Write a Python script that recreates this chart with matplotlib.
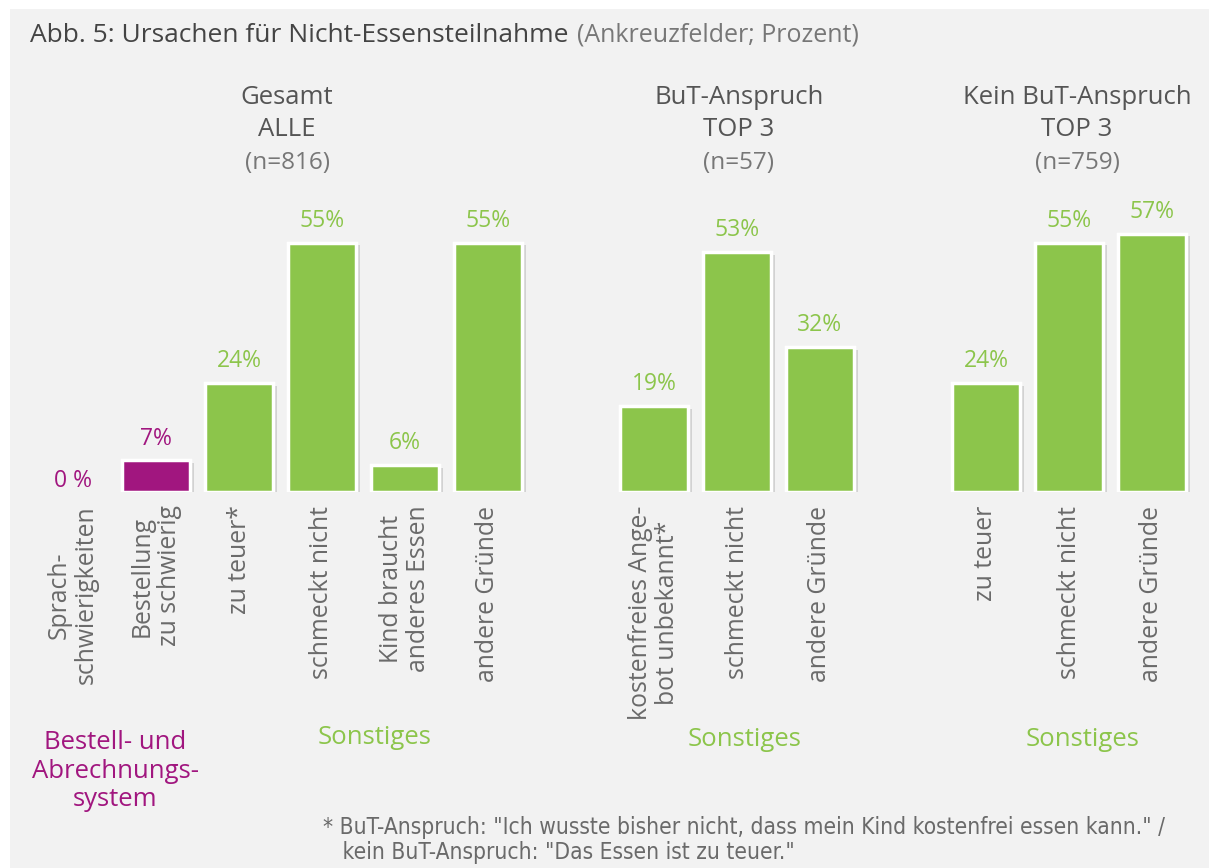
import matplotlib
matplotlib.use("Agg")
import matplotlib.pyplot as plt
import matplotlib.patheffects as pe
from matplotlib.patches import Rectangle

W, H = 1209, 868
FONT = ["Open Sans", "DejaVu Sans"]
plt.rcParams["font.family"] = FONT

GREEN = "#8cc54b"
PURPLE = "#a1167f"
DARK = "#555555"
GRAY = "#6a6a6a"
BG = "#f2f2f2"

# data
labels_gesamt = ["Sprach-\nschwierigkeiten", "Bestellung\nzu schwierig", "zu teuer*",
                 "schmeckt nicht", "Kind braucht\nanderes Essen", "andere Gründe"]
values_gesamt = [0, 7, 24, 55, 6, 55]
colors_gesamt = [PURPLE, PURPLE, GREEN, GREEN, GREEN, GREEN]
labels_but = ["kostenfreies Ange-\nbot unbekannt*", "schmeckt nicht", "andere Gründe"]
values_but = [19, 53, 32]
labels_kein = ["zu teuer", "schmeckt nicht", "andere Gründe"]
values_kein = [24, 55, 57]

slots_gesamt = [0, 1, 2, 3, 4, 5]
slots_but = [7, 8, 9]
slots_kein = [11, 12, 13]

headers = [("Gesamt", "ALLE", "(n=816)"),
           ("BuT-Anspruch", "TOP 3", "(n=57)"),
           ("Kein BuT-Anspruch", "TOP 3", "(n=759)")]
header_x = [287, 739, 1077]


def fx(x):
    return x / W


def fy(y):
    return 1 - y / H


fig = plt.figure(figsize=(W / 100, H / 100), dpi=100)
fig.patch.set_facecolor("white")
fig.patches.append(Rectangle((fx(10), 0), 1 - fx(10), fy(9), transform=fig.transFigure,
                             facecolor=BG, edgecolor="none", zorder=-5))

# axes: slot s -> pixel 156 + (s-1)*83 ; y 0..60 -> 272 px above baseline 492
left = 156 - 1.5 * 83
right = 156 + 12.5 * 83
ax = fig.add_axes([fx(left), fy(492), fx(right - left), 272 / H])
ax.set_xlim(-0.5, 13.5)
ax.set_ylim(0, 60)
ax.axis("off")

shadow = [pe.SimplePatchShadow(offset=(3, -2), shadow_rgbFace="#999999", alpha=0.35), pe.Normal()]

all_slots = slots_gesamt + slots_but + slots_kein
all_vals = values_gesamt + values_but + values_kein
all_cols = colors_gesamt + [GREEN] * 3 + [GREEN] * 3
all_labels = labels_gesamt + labels_but + labels_kein

for s, v, c, lab in zip(all_slots, all_vals, all_cols, all_labels):
    if v > 0:
        b = ax.bar(s, v, width=0.82, color=c, edgecolor="white", linewidth=2.5, zorder=2)
        b[0].set_path_effects(shadow)
        ax.annotate(f"{v}%", xy=(s, v), xytext=(0, 7), textcoords="offset points",
                    ha="center", va="bottom", fontsize=16.5, color=c)
    else:
        ax.annotate(f"{v} %", xy=(s, 0), xytext=(0, -1), textcoords="offset points",
                    ha="center", va="bottom", fontsize=16.5, color=c)
    ax.text(s, -0.05, lab, transform=ax.get_xaxis_transform(), rotation=90,
            ha="center", va="top", multialignment="center", fontsize=17.8,
            color=GRAY, linespacing=1.12)

# title
fig.text(fx(30), fy(35), "Abb. 5: Ursachen für Nicht-Essensteilnahme", fontsize=19,
         color="#444444", va="center", ha="left")
fig.text(fx(577), fy(35), "(Ankreuzfelder; Prozent)", fontsize=18,
         color="#777777", va="center", ha="left")

for (h1, h2, h3), x in zip(headers, header_x):
    fig.text(fx(x), fy(98), h1, fontsize=18.5, color=DARK, ha="center", va="center")
    fig.text(fx(x), fy(130), h2, fontsize=18.5, color=DARK, ha="center", va="center")
    fig.text(fx(x), fy(163), h3, fontsize=17.5, color="#777777", ha="center", va="center")

# group captions
fig.text(fx(115), fy(771), "Bestell- und\nAbrechnungs-\nsystem", fontsize=18.5, color=PURPLE,
         ha="center", va="center", linespacing=1.2)
fig.text(fx(375), fy(737), "Sonstiges", fontsize=18.5, color=GREEN, ha="center", va="center")
fig.text(fx(745), fy(740), "Sonstiges", fontsize=18.5, color=GREEN, ha="center", va="center")
fig.text(fx(1083), fy(740), "Sonstiges", fontsize=18.5, color=GREEN, ha="center", va="center")

# footnote
fig.text(fx(323), fy(840),
         "* BuT-Anspruch: \"Ich wusste bisher nicht, dass mein Kind kostenfrei essen kann.\" /\n"
         "   kein BuT-Anspruch: \"Das Essen ist zu teuer.\"",
         fontsize=16.3, color=GRAY, ha="left", va="center", linespacing=1.15,
         family=["DejaVu Sans Condensed", "Liberation Sans Narrow", "DejaVu Sans"],
         stretch="condensed")

fig.savefig("out.png", dpi=100, facecolor="white")
